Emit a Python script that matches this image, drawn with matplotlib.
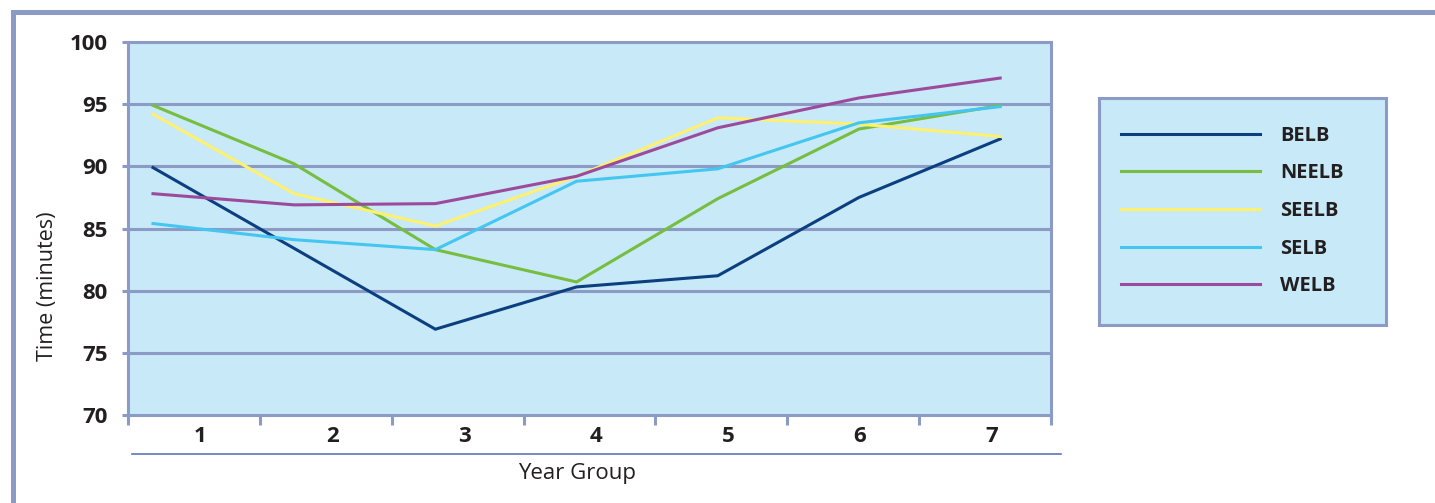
import matplotlib.pyplot as plt
from matplotlib.lines import Line2D
from matplotlib.patches import Rectangle

plt.rcParams['font.family'] = ['Open Sans', 'DejaVu Sans']

# Average time per year group, by education and library board
year_groups = ['1', '2', '3', '4', '5', '6', '7']
boards = ['BELB', 'NEELB', 'SEELB', 'SELB', 'WELB']
belb = [89.9, 83.4, 76.9, 80.3, 81.2, 87.5, 92.2]
neelb = [94.9, 90.2, 83.3, 80.7, 87.4, 93.0, 94.9]
seelb = [94.2, 87.8, 85.2, 89.2, 93.9, 93.4, 92.4]
selb = [85.4, 84.1, 83.3, 88.8, 89.8, 93.5, 94.8]
welb = [87.8, 86.9, 87.0, 89.2, 93.1, 95.5, 97.1]
series = [belb, neelb, seelb, selb, welb]
colors = ['#0b3f80', '#77bd3f', '#fff06e', '#43c6f0', '#9c4a9c']

frame_col = '#8b9bc6'
bg_col = '#c8e9f8'
text_col = '#231f20'

W, H = 1435, 503
fig = plt.figure(figsize=(W / 100, H / 100), dpi=100)
ax = fig.add_axes([128 / W, 1 - 415 / H, 923 / W, 373 / H])
ax.set_facecolor(bg_col)

xs = range(len(year_groups))
for vals, col, name in zip(series, colors, boards):
    ax.plot(xs, vals, color=col, lw=2.2, label=name, zorder=3,
            solid_joinstyle='miter')

ax.set_ylim(70, 100)
ax.set_yticks(range(70, 101, 5))
ax.set_xlim(-0.177, 6.36)
ax.set_xticks([])
for y in range(75, 100, 5):
    ax.axhline(y, color=frame_col, lw=2.2, zorder=2)
for s in ax.spines.values():
    s.set_color(frame_col)
    s.set_linewidth(2.2)
ax.tick_params(axis='y', length=4.5, width=2.2, color=frame_col, pad=10,
               labelsize=16)
for lab in ax.get_yticklabels():
    lab.set_fontweight('bold')
    lab.set_color(text_col)

# category axis: ticks on the boundaries, labels in between
cat = ax.twiny()
cat.set_xlim(0, len(year_groups))
cat.xaxis.set_ticks_position('bottom')
cat.xaxis.set_label_position('bottom')
cat.set_xticks(range(len(year_groups) + 1))
cat.set_xticklabels([])
cat.set_xticks([i + 0.55 for i in xs], minor=True)
cat.set_xticklabels(year_groups, minor=True, fontweight='bold', fontsize=16,
                    color=text_col)
cat.tick_params(axis='x', which='major', length=7, width=2.2, color=frame_col,
                direction='out')
cat.tick_params(axis='x', which='minor', length=0, pad=8)
for s in cat.spines.values():
    s.set_visible(False)

# line under the category labels
fig.add_artist(Line2D([132 / W, 1061 / W], [1 - 454 / H] * 2,
                      color='#5b78b8', lw=1.2))

fig.text(577 / W, 1 - 474 / H, 'Year Group', ha='center', va='center',
         fontsize=16, color=text_col)
fig.text(48 / W, 1 - 286 / H, 'Time (minutes)', ha='center', va='center',
         rotation=90, fontsize=15.5, color=text_col)

# outer frame
fig.add_artist(Line2D([12.5 / W, 1], [1 - 11.5 / H] * 2, color=frame_col,
                      lw=3.6))
fig.add_artist(Line2D([12.5 / W] * 2, [0, 1 - 11.5 / H], color=frame_col,
                      lw=3.6))

# legend box
fig.add_artist(Rectangle((1099 / W, 1 - 325 / H), 287 / W, 227 / H,
                         transform=fig.transFigure, facecolor=bg_col,
                         edgecolor=frame_col, lw=2.2, zorder=0))
leg = fig.legend(loc='center left', bbox_to_anchor=(1121 / W, 1 - 211 / H),
                 frameon=False, handlelength=6.9, handletextpad=1.0,
                 labelspacing=0.88, borderpad=0, borderaxespad=0,
                 prop={'weight': 'bold', 'size': 14.5})
for t in leg.get_texts():
    t.set_color(text_col)

fig.savefig('out.png', dpi=100)
